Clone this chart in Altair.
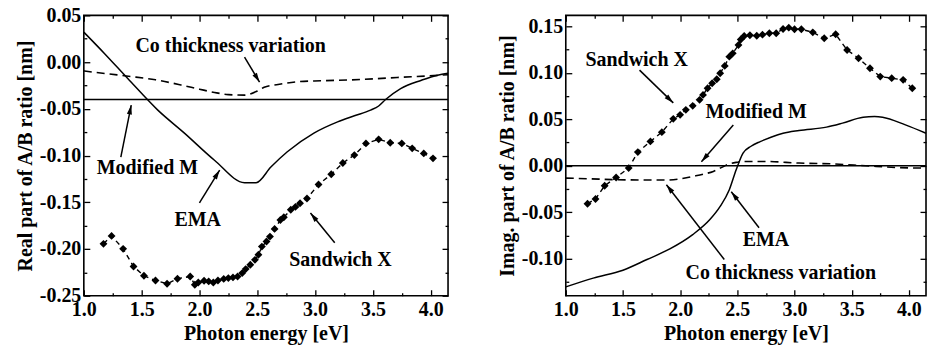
import math
import altair as alt
import pandas as pd

# ---------------- Left panel: real part ----------------
re_sx_E = [1.17, 1.24, 1.34, 1.43, 1.52, 1.62, 1.72, 1.81, 1.92, 1.96, 1.99, 2.04, 2.08, 2.12,
           2.16, 2.21, 2.25, 2.29, 2.33, 2.37, 2.40, 2.44, 2.48, 2.51, 2.54, 2.58, 2.61, 2.65,
           2.70, 2.73, 2.79, 2.83, 2.87, 2.93, 3.03, 3.14, 3.24, 3.34, 3.44, 3.55, 3.65, 3.75,
           3.84, 3.94, 4.02]
re_sx_v = [-0.1945, -0.186, -0.1998, -0.2187, -0.2286, -0.2337, -0.2372, -0.2318, -0.2294,
           -0.2382, -0.2358, -0.234, -0.2347, -0.2358, -0.2337, -0.232, -0.2311, -0.2304,
           -0.2294, -0.2258, -0.2215, -0.2169, -0.2116, -0.2062, -0.1974, -0.192, -0.1867,
           -0.1785, -0.169, -0.166, -0.158, -0.155, -0.151, -0.146, -0.131, -0.120, -0.108,
           -0.0995, -0.087, -0.0827, -0.0863, -0.087, -0.0923, -0.0977, -0.103]
re_ema_E = [1.0, 1.18, 1.38, 1.64, 1.87, 2.13, 2.39, 2.49, 2.62, 2.76, 2.99, 3.195, 3.34, 3.48,
            3.55, 3.61, 3.74, 3.92, 4.06, 4.15]
re_ema_v = [0.032, 0.009, -0.0176, -0.0514, -0.076, -0.105, -0.129, -0.129, -0.112, -0.096,
            -0.076, -0.064, -0.0575, -0.0514, -0.047, -0.040, -0.0283, -0.0194, -0.014, -0.012]
re_co_E = [1.0, 1.2, 1.41, 1.62, 1.84, 2.0, 2.13, 2.25, 2.39, 2.5, 2.56, 2.68, 2.85, 3.05,
           3.28, 3.5, 3.71, 3.95, 4.15]
re_co_v = [-0.0095, -0.0125, -0.0155, -0.019, -0.0245, -0.029, -0.0325, -0.0348, -0.0354,
           -0.031, -0.027, -0.024, -0.021, -0.020, -0.0192, -0.018, -0.0165, -0.015, -0.0135]
re_mod_E = [1.0, 4.15]
re_mod_v = [-0.04, -0.04]

re_ann_text = ["Co thickness variation", "Modified M", "EMA", "Sandwich X"]
re_ann_E = [2.27, 1.55, 1.985, 3.22]
re_ann_v = [0.0169, -0.1133, -0.1689, -0.2116]
re_arr_E0 = [2.39, 1.32, 2.0, 3.17]
re_arr_v0 = [0.0052, -0.1016, -0.1507, -0.1934]
re_arr_E1 = [2.52, 1.41, 2.175, 2.96]
re_arr_v1 = [-0.0215, -0.046, -0.1155, -0.1614]

# ---------------- Right panel: imaginary part ----------------
im_sx_E = [1.19, 1.26, 1.34, 1.44, 1.55, 1.63, 1.74, 1.84, 1.94, 2.00, 2.05, 2.11, 2.17, 2.20,
           2.24, 2.28, 2.32, 2.35, 2.39, 2.43, 2.46, 2.51, 2.53, 2.56, 2.61, 2.67, 2.72, 2.78,
           2.84, 2.90, 2.95, 3.00, 3.06, 3.16, 3.26, 3.36, 3.46, 3.56, 3.66, 3.75, 3.85, 3.95,
           4.03]
im_sx_v = [-0.0409, -0.0358, -0.0215, -0.0126, -0.0025, 0.0147, 0.0262, 0.0362, 0.0505,
           0.0548, 0.0602, 0.0645, 0.071, 0.0763, 0.0835, 0.0889, 0.0932, 0.0996, 0.1075,
           0.1175, 0.1211, 0.130, 0.136, 0.1398, 0.1405, 0.140, 0.1412, 0.1427, 0.1427,
           0.1473, 0.1487, 0.147, 0.147, 0.1437, 0.1373, 0.1416, 0.1247, 0.1158, 0.105,
           0.096, 0.0943, 0.0925, 0.0835]
im_ema_E = [1.0, 1.24, 1.50, 1.71, 1.91, 2.11, 2.26, 2.35, 2.43, 2.49, 2.55, 2.62, 2.70, 2.80,
            2.90, 3.04, 3.28, 3.42, 3.60, 3.70, 3.77, 3.97, 4.15]
im_ema_v = [-0.1305, -0.121, -0.1125, -0.101, -0.0896, -0.0742, -0.058, -0.0438, -0.0258,
            -0.0043, 0.0136, 0.021, 0.026, 0.031, 0.035, 0.038, 0.0416, 0.0459, 0.0523,
            0.053, 0.0523, 0.044, 0.035]
im_co_E = [1.0, 1.2, 1.44, 1.66, 1.88, 2.0, 2.11, 2.2, 2.29, 2.36, 2.43, 2.5, 2.55, 2.75,
           3.04, 3.33, 3.62, 3.91, 4.15]
im_co_v = [-0.0133, -0.014, -0.015, -0.0153, -0.0154, -0.0142, -0.0115, -0.0092, -0.0061,
           -0.002, 0.002, 0.0038, 0.0046, 0.0046, 0.0029, 0.002, 0.0, -0.002, -0.0025]
im_mod_E = [1.0, 4.15]
im_mod_v = [0.0, 0.0]

im_ann_text = ["Sandwich X", "Modified M", "EMA", "Co thickness variation"]
im_ann_E = [1.62, 2.665, 2.75, 2.88]
im_ann_v = [0.114, 0.058, -0.0796, -0.115]
im_arr_E0 = [1.645, 2.465, 2.69, 2.386]
im_arr_v0 = [0.103, 0.044, -0.0667, -0.101]
im_arr_E1 = [1.94, 2.186, 2.447, 1.88]
im_arr_v1 = [0.0677, 0.0043, -0.028, -0.0204]

# ---------------- ticks ----------------
x_major = [1.0, 1.5, 2.0, 2.5, 3.0, 3.5, 4.0]
x_minor = [1.25, 1.75, 2.25, 2.75, 3.25, 3.75]
re_y_major = [-0.25, -0.20, -0.15, -0.10, -0.05, 0.00, 0.05]
re_y_minor = [-0.225, -0.175, -0.125, -0.075, -0.025, 0.025]
im_y_major = [-0.10, -0.05, 0.00, 0.05, 0.10, 0.15]
im_y_minor = [-0.125, -0.075, -0.025, 0.025, 0.075, 0.125]

FONT = "Liberation Serif"
YLABEL = "replace(format(datum.value, '.2f'), '\u2212', '-')"
XLABEL = "format(datum.value, '.1f')"


def ax(orient, values, size, labels=False, title=None, expr=None, pad=3):
    kw = dict(orient=orient, values=values, tickSize=size, offset=-size, domain=False,
              grid=False, ticks=True, labels=labels, tickColor="black", tickWidth=1.3,
              title=title, labelFlush=False)
    if labels:
        kw.update(labelExpr=expr, labelPadding=pad, labelOverlap=False)
    return alt.Axis(**kw)


def panel(sx_E, sx_v, ema_E, ema_v, co_E, co_v, mod_E, mod_v,
          ann_text, ann_E, ann_v, a_E0, a_v0, a_E1, a_v1,
          xdom, ydom, y_major, y_minor, ytitle, w, h):
    sx = alt.Scale(domain=xdom, nice=False, zero=False)
    sy = alt.Scale(domain=ydom, nice=False, zero=False)
    d_mod = pd.DataFrame({"E": mod_E, "v": mod_v})

    def host(xa, ya):
        return alt.Chart(d_mod).mark_point(opacity=0).encode(
            x=alt.X("E:Q", scale=sx, axis=xa), y=alt.Y("v:Q", scale=sy, axis=ya))

    hosts = [
        host(ax("bottom", x_major, 6, True, "Photon energy [eV]", XLABEL, 4),
             ax("left", y_major, 6, True, ytitle, YLABEL, 3)),
        host(ax("bottom", x_minor, 3), ax("left", y_minor, 3)),
        host(ax("top", x_major, 6), ax("right", y_major, 6)),
        host(ax("top", x_minor, 3), ax("right", y_minor, 3)),
    ]

    X = alt.X("E:Q", scale=sx, axis=None)
    Y = alt.Y("v:Q", scale=sy, axis=None)

    mod = alt.Chart(d_mod).mark_line(color="black", strokeWidth=1.6).encode(x=X, y=Y)
    ema = alt.Chart(pd.DataFrame({"E": ema_E, "v": ema_v})).mark_line(
        color="black", strokeWidth=1.5, interpolate="monotone").encode(x=X, y=Y)
    co = alt.Chart(pd.DataFrame({"E": co_E, "v": co_v})).mark_line(
        color="black", strokeWidth=1.6, strokeDash=[8, 5], interpolate="monotone").encode(x=X, y=Y)
    d_sx = pd.DataFrame({"E": sx_E, "v": sx_v})
    sx_line = alt.Chart(d_sx).mark_line(color="black", strokeWidth=1.4,
                                        strokeDash=[5, 4]).encode(x=X, y=Y)
    sx_pts = alt.Chart(d_sx).mark_point(shape="diamond", filled=True, color="black",
                                        size=62, opacity=1).encode(x=X, y=Y)

    # arrow geometry (screen angle from the scale ratios)
    kx = w / (xdom[1] - xdom[0])
    ky = h / (ydom[1] - ydom[0])
    ang = []
    for e0, v0, e1, v1 in zip(a_E0, a_v0, a_E1, a_v1):
        dx = (e1 - e0) * kx
        dy = -(v1 - v0) * ky
        ang.append(math.degrees(math.atan2(dx, -dy)) % 360)
    d_arr = pd.DataFrame({"E": a_E0, "v": a_v0, "E2": a_E1, "v2": a_v1, "ang": ang})
    shafts = alt.Chart(d_arr).mark_rule(color="black", strokeWidth=1.5).encode(
        x=X, y=Y, x2="E2:Q", y2="v2:Q")
    heads = alt.Chart(d_arr).mark_point(
        shape="M0,0 L0.27,1 L-0.27,1 Z", filled=True, color="black", size=360, opacity=1
    ).encode(x=alt.X("E2:Q", scale=sx, axis=None), y=alt.Y("v2:Q", scale=sy, axis=None),
             angle=alt.Angle("ang:Q", scale=None))

    texts = alt.Chart(pd.DataFrame({"E": ann_E, "v": ann_v, "t": ann_text})).mark_text(
        font=FONT, fontWeight="bold", fontSize=20, color="black", align="center",
        baseline="middle").encode(x=X, y=Y, text="t:N")

    return alt.layer(*hosts, mod, co, ema, sx_line, sx_pts, shafts, heads, texts).resolve_axis(
        x="independent", y="independent").properties(width=w, height=h)


left = panel(re_sx_E, re_sx_v, re_ema_E, re_ema_v, re_co_E, re_co_v, re_mod_E, re_mod_v,
             re_ann_text, re_ann_E, re_ann_v, re_arr_E0, re_arr_v0, re_arr_E1, re_arr_v1,
             [1.0, 4.15], [-0.25, 0.05], re_y_major, re_y_minor,
             "Real part of A/B ratio [nm]", 365, 281)
right = panel(im_sx_E, im_sx_v, im_ema_E, im_ema_v, im_co_E, im_co_v, im_mod_E, im_mod_v,
              im_ann_text, im_ann_E, im_ann_v, im_arr_E0, im_arr_v0, im_arr_E1, im_arr_v1,
              [1.0, 4.15], [-0.14, 0.162], im_y_major, im_y_minor,
              "Imag. part of A/B ratio [nm]", 361, 281)

chart = alt.hconcat(left, right, spacing=44).properties(
    padding={"left": 14, "top": 4, "right": 0, "bottom": 0},
    background="white",
).configure_view(stroke="black", strokeWidth=1.6).configure_axis(
    labelFont=FONT, labelFontWeight="bold", labelFontSize=20, labelColor="black",
    titleFont=FONT, titleFontWeight="bold", titleFontSize=20, titleColor="black",
    titlePadding=4,
)

chart.save("out.html", embed_options={"renderer": "svg", "actions": False})
